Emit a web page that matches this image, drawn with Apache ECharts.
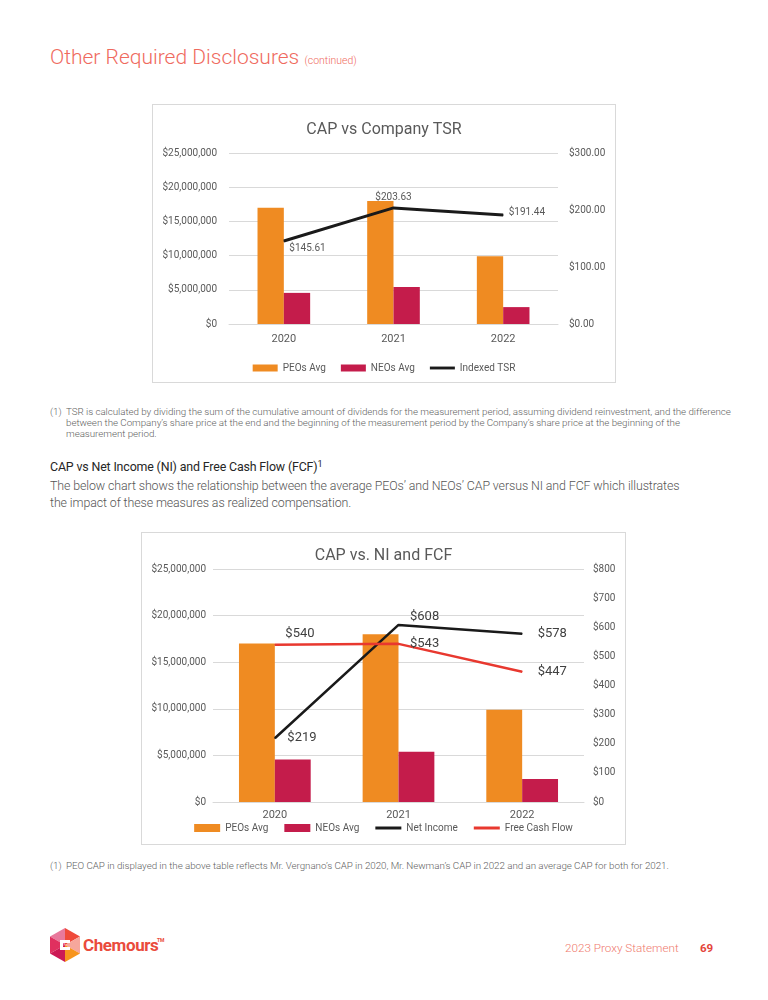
<!DOCTYPE html>
<html>
<head>
<meta charset="utf-8">
<script src="https://cdn.jsdelivr.net/npm/echarts@6/dist/echarts.min.js"></script>
<style>
  html, body { margin:0; padding:0; background:#fff; }
  body { width:768px; height:1000px; position:relative; overflow:hidden; font-family: Roboto, "Noto Sans", sans-serif; }
  .t { position:absolute; white-space:nowrap; }
  .box { position:absolute; border:1px solid #d9d9d9; box-sizing:border-box; }
  .chart { position:absolute; }
  .fn { font-size:9.8px; line-height:11px; font-weight:300; color:#5f5f5f; letter-spacing:-0.05px; }
</style>
</head>
<body>
<div class="t" style="left:50px;top:44px;font-size:21px;line-height:26px;font-weight:300;color:#ef6a5e;">Other Required Disclosures <span style="font-size:10.5px;">(continued)</span></div>

<div class="box" style="left:152px;top:104px;width:464px;height:279px;"></div>
<div id="c1" class="chart" style="left:152px;top:104px;width:464px;height:279px;"></div>

<div class="t fn" style="left:50px;top:406px;">(1)</div>
<div class="t fn" style="left:66px;top:406px;">TSR is calculated by dividing the sum of the cumulative amount of dividends for the measurement period, assuming dividend reinvestment, and the difference<br>between the Company’s share price at the end and the beginning of the measurement period by the Company’s share price at the beginning of the<br>measurement period.</div>

<div class="t" style="left:50px;top:456px;font-size:12.4px;line-height:17px;font-weight:400;color:#262626;letter-spacing:-0.15px;">CAP vs Net Income (NI) and Free Cash Flow (FCF)<span style="font-size:9px;vertical-align:4px;">1</span></div>
<div class="t" style="left:50px;top:477px;font-size:12.4px;line-height:17px;font-weight:300;color:#555;letter-spacing:-0.1px;">The below chart shows the relationship between the average PEOs’ and NEOs’ CAP versus NI and FCF which illustrates<br>the impact of these measures as realized compensation.</div>

<div class="box" style="left:141px;top:532px;width:485px;height:313px;"></div>
<div id="c2" class="chart" style="left:141px;top:532px;width:485px;height:313px;"></div>

<div class="t fn" style="left:50px;top:860px;">(1)</div>
<div class="t fn" style="left:66px;top:860px;">PEO CAP in displayed in the above table reflects Mr. Vergnano’s CAP in 2020, Mr. Newman’s CAP in 2022 and an average CAP for both for 2021.</div>

<svg class="t" style="left:48px;top:926px;" width="130" height="40" viewBox="0 0 130 40">
  <polygon points="17,2 17,19 2,10.5" fill="#e8799c"/>
  <polygon points="17,2 32,10.5 17,19" fill="#ef4a3a"/>
  <polygon points="32,10.5 32,27.5 17,19" fill="#f6a79c"/>
  <polygon points="2,10.5 17,19 2,27.5" fill="#e0305f"/>
  <polygon points="2,27.5 17,19 17,36" fill="#cc1a55"/>
  <polygon points="17,19 32,27.5 17,36" fill="#f7941d"/>
  <polygon points="17,36 32,27.5 24,32" fill="#fcc58f"/>
  <polygon points="12,14 22,14 22,17 15,17 15,21 22,21 22,24 12,24" fill="#ffffff"/>
  <text x="35" y="25" font-family="Roboto, sans-serif" font-weight="700" font-size="17" fill="#ea4b3c" letter-spacing="-0.4">Chemours</text>
  <text x="109" y="16" font-family="Roboto, sans-serif" font-weight="700" font-size="5" fill="#ea4b3c">TM</text>
</svg>
<div class="t" style="left:565px;top:941px;font-size:11.7px;line-height:14px;font-weight:300;color:#ef7a6e;">2023 Proxy Statement</div>
<div class="t" style="left:700px;top:941px;font-size:11.5px;line-height:14px;font-weight:700;color:#e4443a;">69</div>

<script>
// ---- data ----
const years = ['2020', '2021', '2022'];
const peoAvg = [17000000, 18000000, 9900000];
const neoAvg = [4550000, 5400000, 2470000];
const indexedTSR = [145.61, 203.63, 191.44];
const netIncome = [219, 608, 578];
const freeCashFlow = [540, 543, 447];
// axis ranges
const capAxis = { min: 0, max: 25000000, interval: 5000000 };
const tsrAxis = { min: 0, max: 300, interval: 100 };
const niAxis = { min: 0, max: 800, interval: 100 };

// ---- styles ----
const FONT = 'Roboto, "Noto Sans", sans-serif';
const TXT = '#595959';
const ORANGE = '#ef8b22';
const CRIMSON = '#c41c4b';
const BLACK = '#1a1a1a';
const RED = '#e8382f';
const GRID = '#d9d9d9';
const LINE_ICON = 'path://M0,0 L26,0 L26,3 L0,3 Z';

const tsrLabelPos = [
  { position: 'right', offset: [0, 7] },
  { position: 'top', offset: [0, 0] },
  { position: 'right', offset: [0, -2] }
];
const niLabelPos = [
  { position: 'right', offset: [7, 0] },
  { position: 'right', offset: [6, -8] },
  { position: 'right', offset: [10, 0] }
];
const fcfLabelPos = [
  { position: 'right', offset: [5, -11] },
  { position: 'right', offset: [6, 0] },
  { position: 'right', offset: [10, 0] }
];

const money = v => '$' + Number(v).toLocaleString('en-US');

function withLabels(values, pos) {
  return values.map((v, i) => ({ value: v, label: pos[i] }));
}

// ---- chart 1 ----
const c1 = echarts.init(document.getElementById('c1'), null, { renderer: 'canvas' });
c1.setOption({
  animation: false,
  textStyle: { fontFamily: FONT },
  title: { text: 'CAP vs Company TSR', left: 'center', top: 13,
    textStyle: { fontSize: 16, fontWeight: 'normal', color: TXT, fontFamily: FONT } },
  grid: { left: 77, right: 58, top: 49, bottom: 59 },
  legend: { top: 254, left: 'center', itemWidth: 25, itemHeight: 7, itemGap: 15,
    textStyle: { fontSize: 10, color: TXT, fontFamily: FONT },
    data: [{ name: 'PEOs Avg', icon: 'rect' }, { name: 'NEOs Avg', icon: 'rect' },
      { name: 'Indexed TSR', icon: LINE_ICON }] },
  xAxis: { type: 'category', data: years,
    axisLine: { lineStyle: { color: GRID } }, axisTick: { show: false },
    axisLabel: { color: TXT, fontSize: 11, margin: 10 } },
  yAxis: [
    { type: 'value', min: capAxis.min, max: capAxis.max, interval: capAxis.interval,
      axisLine: { show: false }, axisTick: { show: false },
      axisLabel: { formatter: money, color: TXT, fontSize: 10, margin: 12 },
      splitLine: { lineStyle: { color: GRID } } },
    { type: 'value', min: tsrAxis.min, max: tsrAxis.max, interval: tsrAxis.interval,
      axisLine: { show: false }, axisTick: { show: false },
      axisLabel: { formatter: v => '$' + v.toFixed(2), color: TXT, fontSize: 10, margin: 11 },
      splitLine: { show: false } }
  ],
  series: [
    { name: 'PEOs Avg', type: 'bar', data: peoAvg, itemStyle: { color: ORANGE },
      barGap: '0%', barCategoryGap: '52%' },
    { name: 'NEOs Avg', type: 'bar', data: neoAvg, itemStyle: { color: CRIMSON } },
    { name: 'Indexed TSR', type: 'line', yAxisIndex: 1, data: withLabels(indexedTSR, tsrLabelPos),
      symbol: 'circle', symbolSize: 1, z: 5,
      lineStyle: { color: BLACK, width: 3 }, itemStyle: { color: BLACK },
      label: { show: true, color: TXT, fontSize: 10, fontFamily: FONT,
        formatter: p => '$' + p.value.toFixed(2) } }
  ]
});

// ---- chart 2 ----
const c2 = echarts.init(document.getElementById('c2'), null, { renderer: 'canvas' });
c2.setOption({
  animation: false,
  textStyle: { fontFamily: FONT },
  title: { text: 'CAP vs. NI and FCF', left: 'center', top: 11,
    textStyle: { fontSize: 16, fontWeight: 'normal', color: TXT, fontFamily: FONT } },
  grid: { left: 72, right: 42, top: 37, bottom: 43 },
  legend: { top: 286, left: 'center', itemWidth: 26, itemHeight: 8, itemGap: 16,
    textStyle: { fontSize: 10, color: TXT, fontFamily: FONT },
    data: [{ name: 'PEOs Avg', icon: 'rect' }, { name: 'NEOs Avg', icon: 'rect' },
      { name: 'Net Income', icon: LINE_ICON }, { name: 'Free Cash Flow', icon: LINE_ICON }] },
  xAxis: { type: 'category', data: years,
    axisLine: { lineStyle: { color: GRID } }, axisTick: { show: false },
    axisLabel: { color: TXT, fontSize: 11, margin: 8 } },
  yAxis: [
    { type: 'value', min: capAxis.min, max: capAxis.max, interval: capAxis.interval,
      axisLine: { show: false }, axisTick: { show: false },
      axisLabel: { formatter: money, color: TXT, fontSize: 10, margin: 7 },
      splitLine: { lineStyle: { color: GRID } } },
    { type: 'value', min: niAxis.min, max: niAxis.max, interval: niAxis.interval,
      axisLine: { show: false }, axisTick: { show: false },
      axisLabel: { formatter: v => '$' + v, color: TXT, fontSize: 10, margin: 9 },
      splitLine: { show: false } }
  ],
  series: [
    { name: 'PEOs Avg', type: 'bar', data: peoAvg, itemStyle: { color: ORANGE },
      barGap: '0%', barCategoryGap: '42%' },
    { name: 'NEOs Avg', type: 'bar', data: neoAvg, itemStyle: { color: CRIMSON } },
    { name: 'Net Income', type: 'line', yAxisIndex: 1, data: withLabels(netIncome, niLabelPos),
      symbol: 'circle', symbolSize: 1, z: 5,
      lineStyle: { color: BLACK, width: 2.5 }, itemStyle: { color: BLACK },
      label: { show: true, color: '#404040', fontSize: 13, fontFamily: FONT, formatter: p => '$' + p.value } },
    { name: 'Free Cash Flow', type: 'line', yAxisIndex: 1, data: withLabels(freeCashFlow, fcfLabelPos),
      symbol: 'circle', symbolSize: 1, z: 5,
      lineStyle: { color: RED, width: 2.5 }, itemStyle: { color: RED },
      label: { show: true, color: '#404040', fontSize: 13, fontFamily: FONT, formatter: p => '$' + p.value } }
  ]
});
</script>
</body>
</html>
